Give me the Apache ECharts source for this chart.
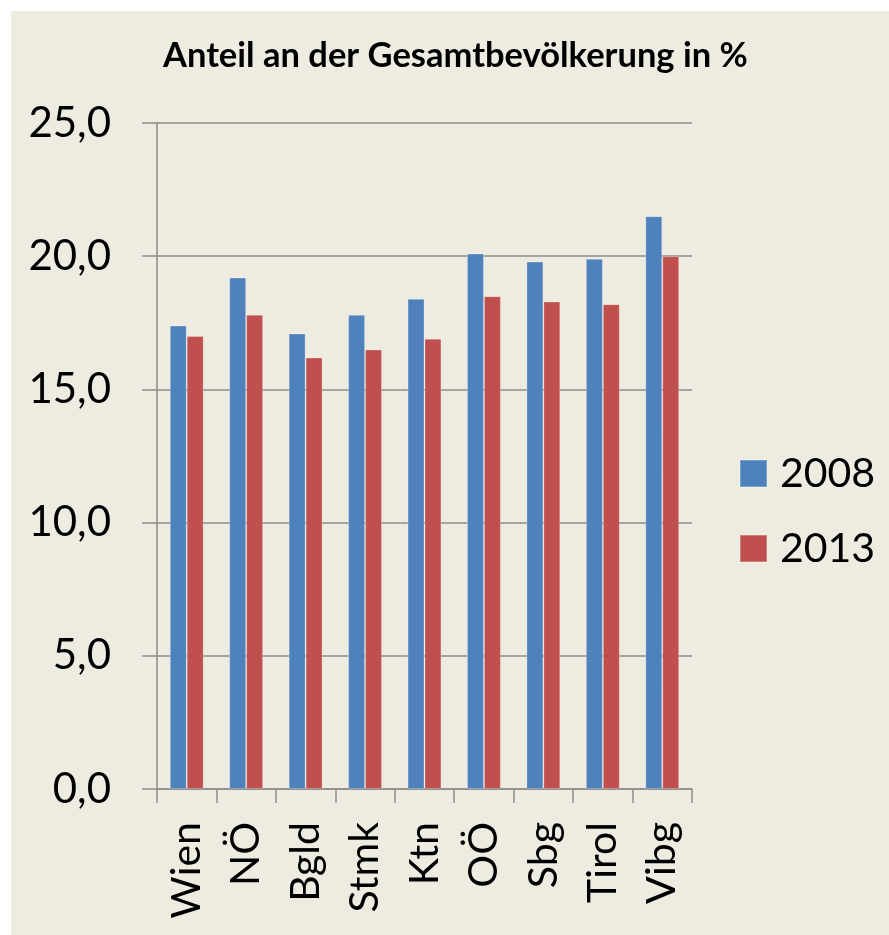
<!DOCTYPE html>
<html>
<head>
<meta charset="utf-8">
<script src="https://cdn.jsdelivr.net/npm/echarts@6/dist/echarts.min.js"></script>
<style>
  html, body { margin: 0; padding: 0; background: #ffffff; }
  #chart { position: absolute; left: 11px; top: 11px; width: 878px; height: 924px; background: #EEECE1; }
</style>
</head>
<body>
<div id="chart"></div>
<script>
var regions = ['Wien', 'NÖ', 'Bgld', 'Stmk', 'Ktn', 'OÖ', 'Sbg', 'Tirol', 'Vibg'];
var anteil2008 = [17.4, 19.2, 17.1, 17.8, 18.4, 20.1, 19.8, 19.9, 21.5];
var anteil2013 = [17.0, 17.8, 16.2, 16.5, 16.9, 18.5, 18.3, 18.2, 20.0];
var seriesNames = ['2008', '2013'];

var chart = echarts.init(document.getElementById('chart'));

// Achsen in Grau wie im Original
var gray = '#8c8c8c';
var fontFam = 'Lato, "Open Sans", sans-serif';

var option = {
  animation: false,
  title: {
    text: 'Anteil an der Gesamtbevölkerung in %',
    left: 147,
    top: 22,
    textStyle: {
      fontFamily: fontFam,
      fontWeight: 'bold',
      fontSize: 34.5,
      color: '#000'
    }
  },
  legend: {
    orient: 'vertical',
    left: 723,
    top: 437,
    itemWidth: 27,
    itemHeight: 27,
    itemGap: 34,
    icon: 'rect',
    data: seriesNames,
    textStyle: {
      fontFamily: fontFam,
      fontSize: 41,
      color: '#000',
      padding: [0, 0, 0, 8]
    }
  },
  grid: {
    left: 146,
    right: 197,
    top: 112,
    bottom: 146,
    containLabel: false
  },
  xAxis: {
    type: 'category',
    data: regions,
    axisLine: { lineStyle: { color: gray, width: 1.5 } },
    axisTick: { show: true, length: 14, alignWithLabel: false, lineStyle: { color: gray, width: 1.5 } },
    axisLabel: {
      rotate: 90,
      margin: 33,
      interval: 0,
      fontFamily: fontFam,
      fontSize: 41,
      color: '#000'
    }
  },
  yAxis: {
    type: 'value',
    min: 0,
    max: 25,
    interval: 5,
    axisLine: { show: true, lineStyle: { color: gray, width: 1.5 } },
    axisTick: { show: true, length: 15, lineStyle: { color: gray, width: 1.5 } },
    splitLine: { lineStyle: { color: gray, width: 1.5 } },
    axisLabel: {
      margin: 46,
      fontFamily: fontFam,
      fontSize: 42,
      color: '#000',
      formatter: function (v) {
        return v.toFixed(1).replace('.', ',');
      }
    }
  },
  series: [
    {
      name: seriesNames[0],
      type: 'bar',
      barGap: '0%',
      barCategoryGap: '43%',
      data: anteil2008,
      itemStyle: { color: '#4F81BD', borderColor: 'rgba(255,255,255,0.25)', borderWidth: 1 }
    },
    {
      name: seriesNames[1],
      type: 'bar',
      barGap: '0%',
      barCategoryGap: '43%',
      data: anteil2013,
      itemStyle: { color: '#C0504D', borderColor: 'rgba(255,255,255,0.25)', borderWidth: 1 }
    }
  ]
};

chart.setOption(option);
</script>
</body>
</html>
